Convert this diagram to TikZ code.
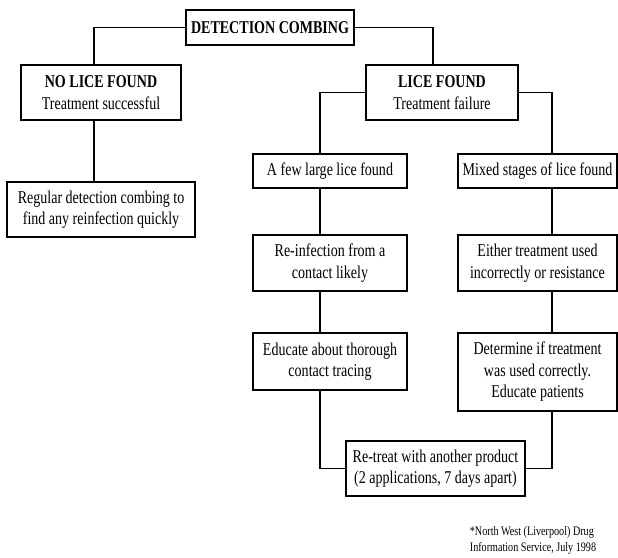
\documentclass[tikz,border=0pt]{standalone}
\usepackage{fontspec}
\setmainfont{Liberation Serif}[FakeStretch=0.78]
\usetikzlibrary{positioning}

\begin{document}
\begin{tikzpicture}[
  x=1pt, y=-1pt,
  box/.style={draw,line width=2.2pt,inner sep=0pt,outer sep=0pt,align=center,
    font=\fontsize{18}{21.5}\selectfont},
  link/.style={line width=1.6pt}
  ]
  \useasboundingbox (0,0) rectangle (618,557);

  \node [box,line width=2.8pt,minimum width=168pt,minimum height=35pt] (dc) at (270,27.5) {\textbf{DETECTION COMBING}};
  \node [box,minimum width=160pt,minimum height=55pt] (nolice) at (101,92.5) {\textbf{NO LICE FOUND}\\Treatment successful};
  \node [box,minimum width=152pt,minimum height=55pt] (lice) at (442,92.5) {\textbf{LICE FOUND}\\Treatment failure};
  \node [box,minimum width=188pt,minimum height=55pt] (regular) at (101,209.5) {Regular detection combing to\\find any reinfection quickly};

  % left column
  \node [box,minimum width=154pt,minimum height=34pt] (few) at (330,171) {A few large lice found};
  \node [box,minimum width=154pt,minimum height=56pt,below=47pt of few] (reinf) {Re-infection from a\\contact likely};
  \node [box,minimum width=154pt,minimum height=57pt,below=42pt of reinf] (educate) {Educate about thorough\\contact tracing};

  % right column
  \node [box,minimum width=159pt,minimum height=34pt] (mixed) at (537.5,171) {Mixed stages of lice found};
  \node [box,minimum width=159pt,minimum height=56pt,below=47pt of mixed] (either) {Either treatment used\\incorrectly or resistance};
  \node [box,minimum width=159pt,minimum height=78pt,below=42pt of either] (determine) {Determine if treatment\\was used correctly.\\Educate patients};

  \node [box,minimum width=179pt,minimum height=55pt] (retreat) at (435.5,468.5) {Re-treat with another product\\(2 applications, 7 days apart)};

  \node [align=left,inner sep=0pt,font=\fontsize{13}{16}\selectfont] (note) at (533,540) {*North West (Liverpool) Drug\\Information Service, July 1998};

  \draw [link] (dc.west) -| ([xshift=-7pt]nolice.north);
  \draw [link] (dc.east) -| ([xshift=-9pt]lice.north);
  \draw [link] ([xshift=-7pt]nolice.south) -- ([xshift=-7pt]regular.north);
  \draw [link] (lice.west) -| ([xshift=-10pt]few.north);
  \draw [link] (lice.east) -| ([xshift=14.5pt]mixed.north);
  \draw [link] ([xshift=-10pt]few.south) -- ([xshift=-10pt]reinf.north);
  \draw [link] ([xshift=-10pt]reinf.south) -- ([xshift=-10pt]educate.north);
  \draw [link] ([xshift=14.5pt]mixed.south) -- ([xshift=14.5pt]either.north);
  \draw [link] ([xshift=14.5pt]either.south) -- ([xshift=14.5pt]determine.north);
  \draw [link] ([xshift=-10pt]educate.south) |- (retreat.west);
  \draw [link] ([xshift=14.5pt]determine.south) |- (retreat.east);
\end{tikzpicture}
\end{document}
